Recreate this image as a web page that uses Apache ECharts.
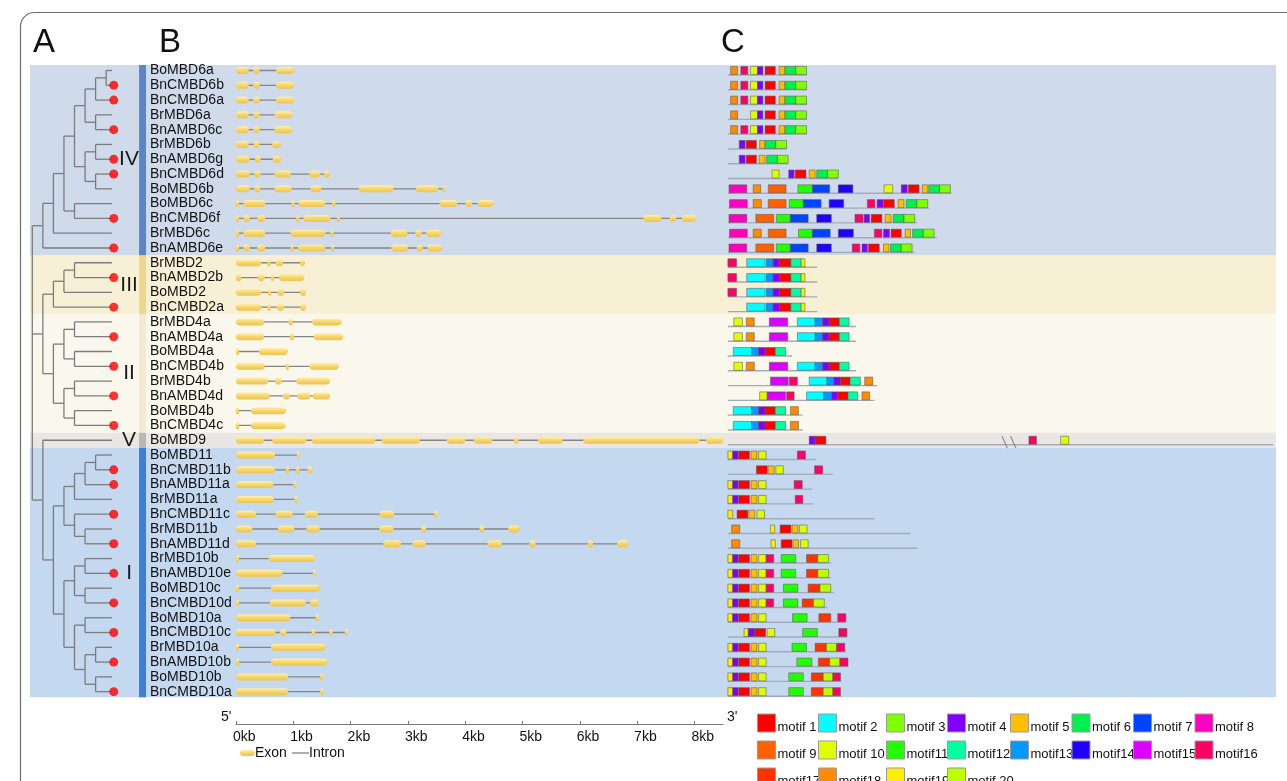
<!DOCTYPE html>
<html>
<head>
<meta charset="utf-8">
<title>MBD gene family: phylogeny, gene structure and conserved motifs</title>
<script src="https://cdn.jsdelivr.net/npm/echarts@6/dist/echarts.min.js"></script>
<style>
  html, body { margin: 0; padding: 0; background: #ffffff; }
  #main { width: 1287px; height: 781px; }
</style>
</head>
<body>
<div id="main"></div>
<script>
// ---------------------------------------------------------------- data
// Genes, top to bottom (same order as the tips of the tree)
const GENES = [
  'BoMBD6a','BnCMBD6b','BnCMBD6a','BrMBD6a','BnAMBD6c','BrMBD6b','BnAMBD6g','BnCMBD6d','BoMBD6b',
  'BoMBD6c','BnCMBD6f','BrMBD6c','BnAMBD6e',
  'BrMBD2','BnAMBD2b','BoMBD2','BnCMBD2a',
  'BrMBD4a','BnAMBD4a','BoMBD4a','BnCMBD4b','BrMBD4b','BnAMBD4d','BoMBD4b','BnCMBD4c',
  'BoMBD9',
  'BoMBD11','BnCMBD11b','BnAMBD11a','BrMBD11a','BnCMBD11c','BrMBD11b','BnAMBD11d',
  'BrMBD10b','BnAMBD10e','BoMBD10c','BnCMBD10d','BoMBD10a','BnCMBD10c','BrMBD10a','BnAMBD10b',
  'BoMBD10b','BnCMBD10a'
];

// Subfamilies and the first/last gene row of each
const GROUPS = ['IV', 'III', 'II', 'V', 'I'];
const GROUP_ROWS = [[0, 12], [13, 16], [17, 24], [25, 25], [26, 42]];

// Cladogram (Newick, branch lengths = depth steps; tips are aligned)
const CLADE_IV = '((((((((BoMBD6a,BnCMBD6b):1,BnCMBD6a):1,(BrMBD6a,BnAMBD6c):1):1,' +
  '((BrMBD6b,BnAMBD6g):1,(BnCMBD6d,BoMBD6b):1):1):1,(BoMBD6c,BnCMBD6f):1):1,BrMBD6c):1,BnAMBD6e)';
const CLADE_III_II = '((((BrMBD2,BnAMBD2b):1,BoMBD2):1,BnCMBD2a):1,' +
  '(((BrMBD4a,BnAMBD4a):1,(BoMBD4a,BnCMBD4b):1):1,((BrMBD4b,BnAMBD4d):1,(BoMBD4b,BnCMBD4c):1):1):1)';
const CLADE_V_I = '(BoMBD9,(((((BoMBD11,BnCMBD11b):1,BnAMBD11a):1,BrMBD11a):1,(BnCMBD11c,(BrMBD11b,BnAMBD11d):1):1):1,' +
  '(((BrMBD10b,BnAMBD10e):1,(BoMBD10c,BnCMBD10d):1):1,((BoMBD10a,BnCMBD10c):1,((BrMBD10a,BnAMBD10b):1,(BoMBD10b,BnCMBD10a):1):1):1):1):1)';

// Exon start/end pairs (kb from the 5' end), one list per gene
const EXONS = [
  [0,0.22, 0.30,0.41, 0.70,1.01],
  [0,0.22, 0.30,0.41, 0.70,1.01],
  [0,0.22, 0.30,0.41, 0.70,1.01],
  [0,0.22, 0.30,0.41, 0.67,0.98],
  [0,0.22, 0.30,0.41, 0.67,0.98],
  [0,0.22, 0.31,0.41, 0.63,0.78],
  [0,0.24, 0.33,0.43, 0.64,0.79],
  [0,0.24, 0.32,0.43, 0.67,0.96, 1.28,1.47, 1.54,1.63],
  [0,0.24, 0.32,0.42, 0.67,0.97, 1.30,1.49, 2.14,2.75, 3.14,3.53, 3.61,3.65],
  [0,0.03, 0.13,0.51, 0.97,1.00, 1.09,1.56, 1.68,1.72, 3.55,3.86, 4.00,4.12, 4.22,4.49],
  [0,0.03, 0.13,0.24, 0.37,0.51, 1.05,1.09, 1.18,1.65, 1.76,1.80, 7.11,7.42, 7.57,7.68, 7.78,8.03],
  [0,0.03, 0.13,0.51, 0.95,1.56, 1.65,1.69, 2.70,2.99, 3.13,3.24, 3.32,3.58],
  [0,0.03, 0.13,0.24, 0.37,0.51, 0.95,0.99, 1.08,1.56, 1.66,1.70, 2.71,3.00, 3.15,3.26, 3.34,3.60],
  [0,0.44, 0.55,0.58, 0.69,0.82, 1.12,1.20],
  [0,0.09, 0.38,0.50, 0.61,0.65, 0.75,1.19],
  [0,0.44, 0.56,0.59, 0.72,0.84, 1.12,1.22],
  [0,0.44, 0.55,0.59, 0.71,0.84, 1.12,1.22],
  [0,0.49, 0.92,0.99, 1.33,1.84],
  [0,0.49, 0.94,1.01, 1.36,1.87],
  [0,0.02, 0.40,0.90],
  [0,0.50, 0.87,0.92, 1.28,1.79],
  [0,0.56, 0.68,0.80, 1.05,1.64],
  [0,0.59, 0.82,0.94, 1.07,1.30, 1.34,1.64],
  [0,0.02, 0.26,0.87],
  [0,0.02, 0.26,0.86],
  [0,0.49, 0.63,1.23, 1.32,2.43, 2.54,3.21, 3.68,4.00, 4.15,4.47, 4.85,4.93, 5.27,5.70, 6.06,8.09, 8.20,8.50],
  [0,0.68, 1.06,1.09],
  [0,0.68, 0.87,0.90, 1.05,1.11, 1.25,1.33],
  [0,0.65, 1.00,1.04],
  [0,0.66, 1.02,1.06],
  [0,0.35, 0.69,0.99, 1.20,1.43, 2.51,2.76, 3.46,3.50],
  [0,0.29, 0.73,1.02, 1.23,1.46, 2.50,2.75, 3.23,3.32, 4.25,4.33, 4.75,4.95],
  [0,0.35, 2.57,2.88, 3.08,3.31, 4.39,4.64, 5.12,5.23, 6.14,6.23, 6.65,6.85],
  [0,0.03, 0.57,1.38],
  [0,0.81, 1.34,1.38],
  [0,0.03, 0.61,1.46],
  [0,0.03, 0.59,1.22, 1.29,1.45],
  [0,0.95, 1.39,1.43],
  [0,0.69, 0.77,0.88, 1.32,1.38, 1.63,1.68, 1.90,1.94],
  [0,0.03, 0.61,1.56],
  [0,0.03, 0.61,1.59],
  [0,0.91, 1.47,1.51],
  [0,0.91, 1.47,1.51]
];

// Kb scale tick labels
const KB_TICKS = ['0kb','1kb','2kb','3kb','4kb','5kb','6kb','7kb','8kb'];

// Protein lengths (aa) and motif hits [motif number, start, end] per gene
const PROTEIN_LEN = [
  147,147,147,147,147,109,112,205,415,374,351,388,346,
  166,166,166,166,
  238,238,119,238,277,272,139,139,
  1013,
  163,195,157,159,272,339,352,
  192,192,197,185,220,222,219,224,211,211
];
const MOTIFS = [
  [[18,5,18],[16,24,37],[10,42,55],[4,55,65],[1,69,88],[5,95,106],[6,106,126],[3,126,146]],
  [[18,5,18],[16,24,37],[10,42,55],[4,55,65],[1,69,88],[5,95,106],[6,106,126],[3,126,146]],
  [[18,5,18],[16,24,37],[10,42,55],[4,55,65],[1,69,88],[5,95,106],[6,106,126],[3,126,146]],
  [[18,5,18],[10,42,55],[4,55,65],[1,69,88],[5,95,106],[6,106,126],[3,126,146]],
  [[18,5,18],[16,24,37],[10,42,55],[4,55,65],[1,69,88],[5,95,106],[6,106,126],[3,126,146]],
  [[4,21,32],[1,34,53],[5,59,69],[6,69,89],[3,89,109]],
  [[4,21,32],[1,34,53],[5,58,69],[6,72,92],[3,92,112]],
  [[10,82,95],[4,113,123],[1,125,145],[5,151,162],[6,165,185],[3,185,205]],
  [[8,2,35],[18,47,61],[9,75,108],[11,130,157],[7,157,189],[14,205,232],[10,290,306],[4,322,333],[1,335,355],[5,361,371],[6,373,393],[3,393,413]],
  [[8,3,36],[18,47,62],[9,75,108],[11,114,140],[7,140,173],[14,188,215],[16,259,273],[4,277,288],[1,289,309],[5,316,327],[6,331,351],[3,351,371]],
  [[8,2,35],[9,52,85],[11,90,116],[7,116,149],[14,165,192],[16,236,251],[4,253,263],[1,266,286],[5,292,303],[6,307,327],[3,327,347]],
  [[8,3,36],[18,47,62],[9,75,108],[11,131,157],[7,157,190],[14,205,233],[16,272,286],[4,289,300],[1,303,322],[5,329,339],[6,343,363],[3,363,383]],
  [[8,2,35],[9,52,85],[11,90,116],[7,116,149],[14,165,192],[16,231,245],[4,249,259],[1,261,281],[5,289,299],[6,302,322],[3,322,342]],
  [[16,0,16],[2,35,69],[13,71,84],[4,84,96],[1,96,117],[12,117,136],[19,136,143]],
  [[16,0,16],[2,35,69],[13,71,84],[4,84,96],[1,96,117],[12,117,136],[19,136,143]],
  [[16,0,16],[2,35,69],[13,71,84],[4,84,96],[1,96,117],[12,117,136],[19,136,143]],
  [[2,35,69],[13,71,84],[4,84,96],[1,96,117],[12,117,136],[19,136,143]],
  [[10,11,27],[18,34,49],[15,77,111],[2,129,162],[13,162,176],[4,176,188],[1,188,207],[12,207,225]],
  [[10,11,27],[18,34,49],[15,77,111],[2,129,162],[13,162,176],[4,176,188],[1,188,207],[12,207,225]],
  [[2,10,44],[13,44,57],[4,57,69],[1,69,88],[12,88,107]],
  [[10,11,27],[18,34,49],[15,77,111],[2,129,162],[13,162,176],[4,176,188],[1,188,207],[12,207,225]],
  [[15,79,112],[16,114,129],[2,151,184],[13,184,197],[4,197,209],[1,209,227],[12,227,246],[18,254,269]],
  [[10,59,73],[15,73,107],[16,109,123],[2,146,178],[13,178,193],[4,193,204],[1,204,223],[12,223,241],[18,249,263]],
  [[2,10,44],[13,44,57],[4,57,69],[1,69,88],[12,88,107],[18,116,131]],
  [[2,10,44],[13,44,57],[4,57,69],[1,69,88],[12,88,107],[18,116,131]],
  [[4,151,162],[1,162,182],[16,559,573],[10,618,633]],
  [[19,0,9],[4,9,19],[1,20,40],[5,43,54],[10,57,71],[16,129,144]],
  [[1,53,73],[5,75,86],[10,89,103],[16,161,176]],
  [[19,0,9],[4,9,19],[1,20,40],[5,43,54],[10,57,71],[16,123,138]],
  [[19,0,9],[4,9,19],[1,20,40],[5,43,54],[10,57,71],[16,125,139]],
  [[19,0,9],[1,17,37],[5,39,50],[10,54,68]],
  [[18,7,22],[19,79,87],[1,97,117],[5,119,130],[10,133,147]],
  [[18,7,22],[19,80,88],[1,99,119],[5,121,131],[10,135,149]],
  [[19,0,9],[4,9,19],[1,20,40],[5,43,54],[10,57,71],[16,71,85],[11,99,126],[17,146,167],[20,167,187]],
  [[19,0,9],[4,9,19],[1,20,40],[5,43,54],[10,57,71],[16,71,85],[11,99,126],[17,146,167],[20,167,187]],
  [[19,0,9],[4,9,19],[1,20,40],[5,43,54],[10,57,71],[16,71,85],[11,103,130],[17,149,171],[20,171,191]],
  [[19,0,9],[4,9,19],[1,20,40],[5,43,54],[10,57,71],[16,71,85],[11,103,130],[17,138,159],[20,159,179]],
  [[19,0,9],[4,9,19],[1,20,40],[5,43,54],[10,57,71],[11,120,147],[17,169,191],[16,204,219]],
  [[19,30,38],[4,38,50],[1,50,70],[10,73,87],[11,139,166],[16,206,221]],
  [[19,0,9],[4,9,19],[1,20,40],[5,43,54],[10,57,71],[11,119,146],[17,162,183],[20,183,202],[16,202,217]],
  [[19,0,9],[4,9,19],[1,20,40],[5,43,54],[10,57,71],[11,128,156],[17,168,189],[20,189,208],[16,208,223]],
  [[19,0,9],[4,9,19],[1,20,40],[5,43,54],[10,57,71],[11,113,140],[17,155,177],[20,177,195],[16,195,209]],
  [[19,0,9],[4,9,19],[1,20,40],[5,43,54],[10,57,71],[11,113,140],[17,155,177],[20,177,195],[16,195,209]]
];

// Axis break drawn on the long BoMBD9 protein (aa)
const BREAK_GENE = 'BoMBD9';
const BREAK_AT = [509, 525];

const MOTIF_NAMES = ['motif 1','motif 2','motif 3','motif 4','motif 5','motif 6','motif 7','motif 8',
  'motif 9','motif 10','motif11','motif12','motif13','motif14','motif15','motif16',
  'motif17','motif18','motif19','motif 20'];

// ---------------------------------------------------------------- styles
const FONT = '"Liberation Sans", Arial, Helvetica, sans-serif';
const MOTIF_COLORS = ['#FF0000','#00FFFF','#80FF00','#8000FF','#FFBF00','#00F050','#0044FF','#FF00BF',
  '#FF6000','#DFFF00','#22FF00','#00FFA0','#0099FF','#2200FF','#DD00FF','#FF0066',
  '#FF3300','#FF8C00','#FFEE00','#BBFF00'];
const BAND_COLORS = ['#CFDBEB', '#F8F0D5', '#FAF7EC', '#EAE6E3', '#C4D9F0'];
const BAR_COLORS  = ['#5B86C5', '#EFD68B', '#F3EAD0', '#BFB6AF', '#3C80D5'];

// Layout (pixels)
const ROW0_Y = 70.5, ROW_STEP = 14.79, N = GENES.length;
const PLOT_TOP = ROW0_Y - ROW_STEP / 2, PLOT_H = ROW_STEP * N;
const BAND_TOP = -0.37, BAND_BOTTOM = N - 0.62;     // shaded area trimmed slightly at both ends
const TREE_LEFT = 32.3, TREE_UNIT = 10.55;          // px per cladogram step
const TIP = 7.55, DOT_X = 7.72, NUMERAL_X = 9.17, BAR_X = [10.12, 10.78], TREE_MAX = 10.78;
const GENE_LEFT = 236, KB_PX = 57.3, KB_MAX = 8.5;
const MOTIF_LEFT = 727.9, MOTIF_W = 549.8, AA_MAX = 1021;

function bandSpan(r) {
  return [Math.max(r[0] - 0.5, BAND_TOP), Math.min(r[1] + 0.5, BAND_BOTTOM)];
}

// ---------------------------------------------------------------- tree layout
function parseNewick(s) {
  let i = 0;
  function node() {
    const n = { children: [], len: 0, name: '' };
    if (s[i] === '(') {
      i++;
      n.children.push(node());
      while (s[i] === ',') { i++; n.children.push(node()); }
      i++; // closing bracket
    }
    let name = '';
    while (i < s.length && ',():;'.indexOf(s[i]) < 0) name += s[i++];
    n.name = name.trim();
    if (s[i] === ':') {
      i++;
      let num = '';
      while (i < s.length && ',();'.indexOf(s[i]) < 0) num += s[i++];
      n.len = parseFloat(num);
    }
    return n;
  }
  return node();
}

const NEWICK = '(' + [CLADE_IV, CLADE_III_II, CLADE_V_I].map(c => c + ':1').join(',') + ');';
const treeRoot = parseNewick(NEWICK);
const treeSegments = [];
(function place(n, depth) {
  if (!n.children.length) {
    n.x = TIP;
    n.y = GENES.indexOf(n.name);
    return;
  }
  n.x = depth;
  n.children.forEach(c => place(c, depth + c.len));
  const first = n.children[0], last = n.children[n.children.length - 1];
  n.y = (first.y + last.y) / 2;
  treeSegments.push([n.x, first.y, n.x, last.y]);
  n.children.forEach(c => treeSegments.push([n.x, c.y, c.x, c.y]));
})(treeRoot, 0);

const dotData = GENES.map((g, i) => [DOT_X, i, g]).filter(d => d[2].indexOf('Bn') === 0);

// ---------------------------------------------------------------- chart
const chart = echarts.init(document.getElementById('main'), null, { renderer: 'canvas' });

const exonFill = new echarts.graphic.LinearGradient(0, 0, 0, 1, [
  { offset: 0, color: '#FFF0B0' },
  { offset: 0.45, color: '#F8D86E' },
  { offset: 1, color: '#EDC24E' }
]);

const graphics = [];
// outer rounded frame
graphics.push({
  type: 'rect', z: 0, silent: true,
  shape: { x: 20.5, y: 12.5, width: 1320, height: 820, r: 14 },
  style: { fill: 'none', stroke: '#6e6e6e', lineWidth: 1.2 }
});
// panel letters
[['A', 33], ['B', 159], ['C', 721]].forEach(([t, x]) => graphics.push({
  type: 'text', x: x, y: 43, z: 10,
  style: { text: t, font: '33px ' + FONT, fill: '#111', verticalAlign: 'middle' }
}));
// 5' / 3' ends of the kb scale
graphics.push({ type: 'text', x: 221, y: 717, z: 10,
  style: { text: "5'", font: '14px ' + FONT, fill: '#111', verticalAlign: 'middle' } });
graphics.push({ type: 'text', x: 727, y: 717, z: 10,
  style: { text: "3'", font: '14px ' + FONT, fill: '#111', verticalAlign: 'middle' } });
// exon / intron key
graphics.push({ type: 'rect', z: 10, shape: { x: 240, y: 750, width: 15, height: 6, r: 3 },
  style: { fill: exonFill } });
graphics.push({ type: 'text', x: 255, y: 753, z: 10,
  style: { text: 'Exon', font: '14px ' + FONT, fill: '#111', verticalAlign: 'middle' } });
graphics.push({ type: 'line', z: 10, shape: { x1: 292, y1: 753, x2: 309, y2: 753 },
  style: { stroke: '#808080', lineWidth: 1.3 } });
graphics.push({ type: 'text', x: 309, y: 753, z: 10,
  style: { text: 'Intron', font: '14px ' + FONT, fill: '#111', verticalAlign: 'middle' } });
// motif key, 8 per row
const KEY_X = [757.5, 818.5, 886.5, 947.5, 1010.5, 1072, 1133.5, 1195];
const KEY_Y = [714, 741, 768];
MOTIF_NAMES.forEach((name, k) => {
  const x = KEY_X[k % 8], y = KEY_Y[Math.floor(k / 8)];
  graphics.push({ type: 'rect', z: 10, shape: { x: x, y: y, width: 18, height: 18 },
    style: { fill: MOTIF_COLORS[k], stroke: '#9a9a9a', lineWidth: 1 } });
  graphics.push({ type: 'text', x: x + 20, y: y + 13, z: 10,
    style: { text: name, font: '13px ' + FONT, fill: '#111', verticalAlign: 'middle' } });
});

const rowsAxis = (gi) => ({ gridIndex: gi, type: 'value', inverse: true, min: -0.5, max: N - 0.5, show: false });

const option = {
  animation: false,
  backgroundColor: '#ffffff',
  textStyle: { fontFamily: FONT },
  graphic: { elements: graphics },
  grid: [
    { left: 30, right: 11, top: PLOT_TOP, height: PLOT_H },                              // bands
    { left: TREE_LEFT, width: TREE_MAX * TREE_UNIT, top: PLOT_TOP, height: PLOT_H },      // tree
    { left: GENE_LEFT, width: KB_MAX * KB_PX, top: PLOT_TOP, height: PLOT_H },            // gene structure
    { left: MOTIF_LEFT, width: MOTIF_W, top: PLOT_TOP, height: PLOT_H },                  // motifs
    { left: GENE_LEFT, width: KB_MAX * KB_PX, top: 723, height: 1 }                       // kb scale
  ],
  xAxis: [
    { gridIndex: 0, type: 'value', min: 0, max: 1, show: false },
    { gridIndex: 1, type: 'value', min: 0, max: TREE_MAX, show: false },
    { gridIndex: 2, type: 'value', min: 0, max: KB_MAX, show: false },
    { gridIndex: 3, type: 'value', min: 0, max: AA_MAX, show: false },
    {
      gridIndex: 4, type: 'value', min: 0, max: KB_MAX, interval: 1, position: 'bottom',
      axisLine: { show: true, lineStyle: { color: '#7a7a7a', width: 1.2 } },
      axisTick: { show: true, inside: true, length: 3, lineStyle: { color: '#7a7a7a' } },
      splitLine: { show: false },
      axisLabel: {
        show: true, margin: 6, align: 'left', fontSize: 14, color: '#111', fontFamily: FONT,
        showMaxLabel: false, padding: [0, 0, 0, -3],
        formatter: v => (KB_TICKS[Math.round(v)] !== undefined && Math.abs(v - Math.round(v)) < 1e-6) ? KB_TICKS[Math.round(v)] : ''
      }
    }
  ],
  yAxis: [
    rowsAxis(0),
    rowsAxis(1),
    {
      gridIndex: 2, type: 'category', inverse: true, data: GENES, z: 20,
      axisLine: { show: false }, axisTick: { show: false }, splitLine: { show: false },
      axisLabel: { interval: 0, margin: GENE_LEFT - 150, align: 'left', fontSize: 14, color: '#111', fontFamily: FONT }
    },
    rowsAxis(3),
    { gridIndex: 4, type: 'value', show: false }
  ],
  series: [
    // subfamily background bands
    {
      type: 'custom', xAxisIndex: 0, yAxisIndex: 0, z: 1, silent: true,
      data: GROUP_ROWS.map((r, gi) => [0, r[0], gi]),
      encode: { x: 0, y: 1 },
      renderItem: (params, api) => {
        const s = bandSpan(GROUP_ROWS[params.dataIndex]);
        const a = api.coord([0, s[0]]), b = api.coord([1, s[1]]);
        return { type: 'rect', shape: { x: a[0], y: a[1], width: b[0] - a[0], height: b[1] - a[1] },
          style: { fill: BAND_COLORS[params.dataIndex] } };
      }
    },
    // subfamily colour strips and numerals
    {
      type: 'custom', xAxisIndex: 1, yAxisIndex: 1, z: 3, silent: true,
      data: GROUP_ROWS.map((r, gi) => [NUMERAL_X, (r[0] + r[1]) / 2, gi]),
      encode: { x: 0, y: 1 },
      renderItem: (params, api) => {
        const gi = params.dataIndex, r = GROUP_ROWS[gi], s = bandSpan(r);
        const a = api.coord([BAR_X[0], s[0]]), b = api.coord([BAR_X[1], s[1]]);
        const c = api.coord([NUMERAL_X, (r[0] + r[1]) / 2]);
        return { type: 'group', children: [
          { type: 'rect', shape: { x: a[0], y: a[1], width: b[0] - a[0], height: b[1] - a[1] },
            style: { fill: BAR_COLORS[gi] } },
          { type: 'text', x: c[0], y: c[1],
            style: { text: GROUPS[gi], font: '21px ' + FONT, fill: '#1a1a1a', align: 'center', verticalAlign: 'middle' } }
        ] };
      }
    },
    // tree branches
    {
      type: 'custom', xAxisIndex: 1, yAxisIndex: 1, z: 4, silent: true,
      data: treeSegments, encode: { x: [0, 2], y: [1, 3] },
      renderItem: (params, api) => {
        const p = api.coord([api.value(0), api.value(1)]), q = api.coord([api.value(2), api.value(3)]);
        return { type: 'line', shape: { x1: p[0], y1: p[1], x2: q[0], y2: q[1] },
          style: { stroke: '#7c7c7c', lineWidth: 1.3 } };
      }
    },
    // Brassica napus genes
    {
      type: 'scatter', xAxisIndex: 1, yAxisIndex: 1, z: 5, silent: true,
      data: dotData, symbol: 'circle', symbolSize: 9,
      itemStyle: { color: '#FF0000' }
    },
    // gene structure
    {
      type: 'custom', xAxisIndex: 2, yAxisIndex: 2, z: 4, silent: true,
      data: GENES.map((g, i) => [0, i]), encode: { x: 0, y: 1 },
      renderItem: (params, api) => {
        const i = params.dataIndex, ex = EXONS[i];
        const c = api.coord([0, i]), e = api.coord([ex[ex.length - 1], i]);
        const kids = [{ type: 'line', shape: { x1: c[0], y1: c[1], x2: e[0], y2: c[1] },
          style: { stroke: '#858585', lineWidth: 1.3 } }];
        for (let k = 0; k < ex.length; k += 2) {
          const a = api.coord([ex[k], i])[0], b = api.coord([ex[k + 1], i])[0];
          const w = Math.max(b - a, 3);
          kids.push({ type: 'rect', shape: { x: a, y: c[1] - 3.5, width: w, height: 7, r: Math.min(3.5, w / 2) },
            style: { fill: exonFill } });
        }
        return { type: 'group', children: kids };
      }
    },
    // conserved motifs
    {
      type: 'custom', xAxisIndex: 3, yAxisIndex: 3, z: 4, silent: true,
      data: GENES.map((g, i) => [0, i]), encode: { x: 0, y: 1 },
      renderItem: (params, api) => {
        const i = params.dataIndex;
        const c = api.coord([0, i]), e = api.coord([PROTEIN_LEN[i], i]);
        const ly = c[1] + 4.5;
        const kids = [{ type: 'line', shape: { x1: c[0], y1: ly, x2: e[0], y2: ly },
          style: { stroke: '#A4ABB8', lineWidth: 1.4 } }];
        if (GENES[i] === BREAK_GENE) {
          BREAK_AT.forEach(p => {
            const a = api.coord([p, i])[0], b = api.coord([p + 10, i])[0];
            kids.push({ type: 'line', shape: { x1: a, y1: c[1] - 4, x2: b, y2: c[1] + 8 },
              style: { stroke: '#8a8a8a', lineWidth: 1.1 } });
          });
        }
        MOTIFS[i].forEach(m => {
          const a = api.coord([m[1], i])[0], b = api.coord([m[2], i])[0];
          kids.push({ type: 'rect', shape: { x: a, y: c[1] - 4, width: b - a, height: 8 },
            style: { fill: MOTIF_COLORS[m[0] - 1], stroke: 'rgba(90,90,90,0.55)', lineWidth: 1 } });
        });
        return { type: 'group', children: kids };
      }
    },
    // carrier for the kb scale axis
    { type: 'line', xAxisIndex: 4, yAxisIndex: 4, data: [], silent: true }
  ]
};

chart.setOption(option);
</script>
</body>
</html>
